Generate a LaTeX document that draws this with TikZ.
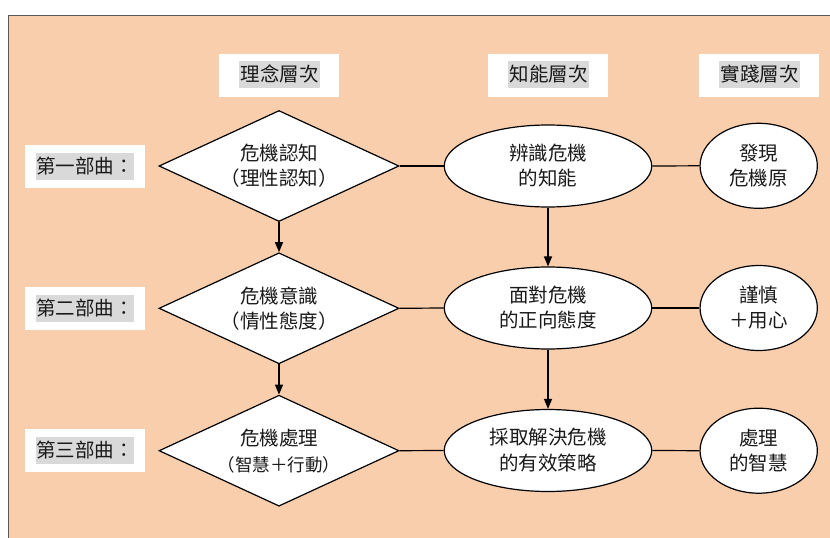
\documentclass[tikz,border=0pt]{standalone}
\usepackage{fontspec}
\setmainfont{Noto Sans CJK TC}
\newfontfamily\cjkh[RawFeature=+halt]{Noto Sans CJK TC}
\usetikzlibrary{shapes.geometric,arrows.meta}
\definecolor{peach}{HTML}{F9CEAC}
\definecolor{hlgray}{HTML}{D9D9D9}
\definecolor{framegray}{HTML}{595959}
\definecolor{ink}{HTML}{1A1A1A}
\begin{document}
\begin{tikzpicture}[x=1pt,y=-1pt,
  every node/.style={font=\fontsize{19.5}{25}\selectfont, text=ink},
  whitebox/.style={fill=white, draw=none, minimum width=120pt, minimum height=42.7pt, inner sep=0},
  hlbox/.style={fill=hlgray, inner sep=0, minimum height=27pt},
  dia/.style={diamond, draw, fill=white, line width=1.2pt, minimum width=240pt, minimum height=111pt, aspect=2.16, inner sep=0, align=center},
  ell/.style={ellipse, draw, fill=white, line width=1.2pt, minimum width=207.5pt, minimum height=82pt, inner sep=0, align=center},
  circ/.style={ellipse, draw, fill=white, line width=1.2pt, minimum width=117.3pt, minimum height=85pt, inner sep=0, align=center},
  link/.style={line width=1.2pt},
  arr/.style={line width=1.2pt, -{Triangle[length=10pt,width=8pt]}}]
\useasboundingbox (0,0) rectangle (830,538);
\begin{scope}
\clip (0,0) rectangle (830,538);
\draw[fill=peach, draw=framegray, line width=1.5pt] (8.5,15.5) rectangle (845,560);
\end{scope}

% headers
\node[whitebox, minimum width=120pt] (h1b) at (279,75.3) {};
\node[hlbox, minimum width=81pt] (h1) at (279.5,74.2) {理念層次};
\node[whitebox, minimum width=119.7pt] (h2b) at (547.8,75.3) {};
\node[hlbox, minimum width=81pt] (h2) at (548.5,74.2) {知能層次};
\node[whitebox, minimum width=120pt] (h3b) at (759,75.3) {};
\node[hlbox, minimum width=81pt] (h3) at (759.5,74.2) {實踐層次};

% left labels
\node[whitebox] (l1b) at (85,166.3) {};
\node[hlbox, minimum width=96.3pt] (l1) at (84.8,166.3) {第一部曲：};
\node[whitebox] (l2b) at (85,308.3) {};
\node[hlbox, minimum width=96.3pt] (l2) at (84.8,308.3) {第二部曲：};
\node[whitebox] (l3b) at (85,450.5) {};
\node[hlbox, minimum width=96.3pt] (l3) at (84.8,450.5) {第三部曲：};

% diamonds
\node[dia] (d1) at (279,166) {危機認知\\{\cjkh （理性認知）}};
\node[dia] (d2) at (279,308.3) {危機意識\\{\cjkh （情性態度）}};
\node[dia] (d3) at (279,450.7) {危機處理\\[1pt]{\cjkh\fontsize{17.5}{20}\selectfont （智慧＋行動）}};

% ellipses
\node[ell] (e1) at (548,166) {辨識危機\\的知能};
\node[ell] (e2) at (548,308) {面對危機\\的正向態度};
\node[ell] (e3) at (548,450.5) {採取解決危機\\[1pt]的有效策略};

% circles
\node[circ] (c1) at (758.7,165.8) {發現\\危機原};
\node[circ] (c2) at (758.7,308) {謹慎\\＋用心};
\node[circ] (c3) at (758.7,450.7) {處理\\的智慧};

% connectors
\draw[link] (d1.east) -- (e1.west);
\draw[link] (e1.east) -- (c1.west);
\draw[link] (d2.east) -- (e2.west);
\draw[link] (e2.east) -- (c2.west);
\draw[link] (d3.east) -- (e3.west);
\draw[link] (e3.east) -- (c3.west);
\draw[arr] (d1.south) -- (d2.north);
\draw[arr] (d2.south) -- (d3.north);
\draw[arr] (e1.south) -- (e2.north);
\draw[arr] (e2.south) -- (e3.north);
\end{tikzpicture}
\end{document}
